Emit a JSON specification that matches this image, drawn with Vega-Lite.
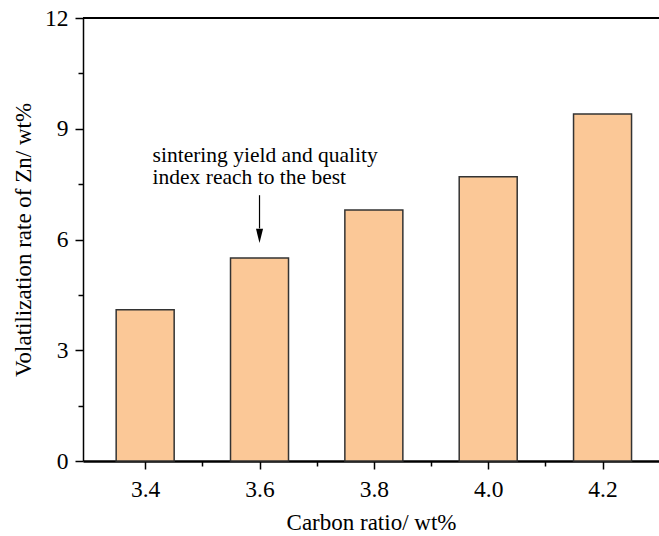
{
  "$schema": "https://vega.github.io/schema/vega-lite/v6.json",
  "autosize": "none",
  "width": 576,
  "height": 443,
  "padding": {"left": 83, "top": 18, "right": 0, "bottom": 75},
  "background": "white",
  "config": {
    "view": {"stroke": null},
    "font": "Liberation Serif",
    "axis": {
      "domainColor": "black",
      "tickColor": "black",
      "labelColor": "black",
      "titleColor": "black",
      "labelFont": "Liberation Serif",
      "titleFont": "Liberation Serif",
      "labelFontSize": 23.5,
      "titleFontSize": 23,
      "titleFontWeight": "normal",
      "grid": false,
      "tickWidth": 1.5
    }
  },
  "datasets": {
    "bars": [
      {"carbon": 3.4, "zn": 4.1},
      {"carbon": 3.6, "zn": 5.5},
      {"carbon": 3.8, "zn": 6.8},
      {"carbon": 4.0, "zn": 7.7},
      {"carbon": 4.2, "zn": 9.4}
    ],
    "note": [
      {"carbon": 3.413, "zn": 8.1, "label": ["sintering yield and quality", "index reach to the best"]}
    ],
    "arrow": [
      {"carbon": 3.6, "top": 7.2, "bottom": 6.3, "head": 6.1}
    ],
    "frame": [
      {"zn": 12}
    ]
  },
  "layer": [
    {
      "data": {"name": "bars"},
      "mark": {"type": "bar", "width": 58, "fill": "#FBC897", "stroke": "#333333", "strokeWidth": 1.5},
      "encoding": {
        "x": {
          "field": "carbon",
          "type": "quantitative",
          "scale": {"domain": [3.3, 4.29], "nice": false, "zero": false},
          "axis": {
            "title": "Carbon ratio/ wt%",
            "values": [3.4, 3.5, 3.6, 3.7, 3.8, 3.9, 4.0, 4.1, 4.2],
            "format": ".1f",
            "labelExpr": "round(datum.value * 10) % 2 === 0 ? datum.label : ''",
            "labelFontSize": 23.5,
            "tickSize": {"condition": {"test": "round(datum.value * 10) % 2 === 0", "value": 8}, "value": 5},
            "domainWidth": 2.5,
            "labelPadding": 8,
            "titlePadding": 11,
            "labelFlush": false
          }
        },
        "y": {
          "field": "zn",
          "type": "quantitative",
          "scale": {"domain": [0, 12], "nice": false},
          "axis": {
            "title": "Volatilization rate of Zn/ wt%",
            "values": [0, 1.5, 3, 4.5, 6, 7.5, 9, 10.5, 12],
            "labelExpr": "datum.value % 3 === 0 ? datum.label : ''",
            "labelFontSize": 23.5,
            "tickSize": {"condition": {"test": "datum.value % 3 === 0", "value": 8}, "value": 5},
            "domainWidth": 1.5,
            "labelPadding": 7,
            "titlePadding": 9,
            "labelFlush": false
          }
        }
      }
    },
    {
      "data": {"name": "frame"},
      "mark": {"type": "rule", "color": "black", "strokeWidth": 2},
      "encoding": {"y": {"field": "zn", "type": "quantitative"}}
    },
    {
      "data": {"name": "note"},
      "mark": {"type": "text", "align": "left", "baseline": "alphabetic", "fontSize": 21.5, "lineHeight": 22, "font": "Liberation Serif", "color": "black"},
      "encoding": {
        "x": {"field": "carbon", "type": "quantitative"},
        "y": {"field": "zn", "type": "quantitative"},
        "text": {"field": "label"}
      }
    },
    {
      "data": {"name": "arrow"},
      "mark": {"type": "rule", "color": "black", "strokeWidth": 1.2},
      "encoding": {
        "x": {"field": "carbon", "type": "quantitative"},
        "y": {"field": "top", "type": "quantitative"},
        "y2": {"field": "bottom"}
      }
    },
    {
      "data": {"name": "arrow"},
      "mark": {"type": "point", "shape": "M-0.5,-1L0.5,-1L0,1Z", "size": 200, "filled": true, "color": "black", "opacity": 1},
      "encoding": {
        "x": {"field": "carbon", "type": "quantitative"},
        "y": {"field": "head", "type": "quantitative"}
      }
    }
  ]
}
